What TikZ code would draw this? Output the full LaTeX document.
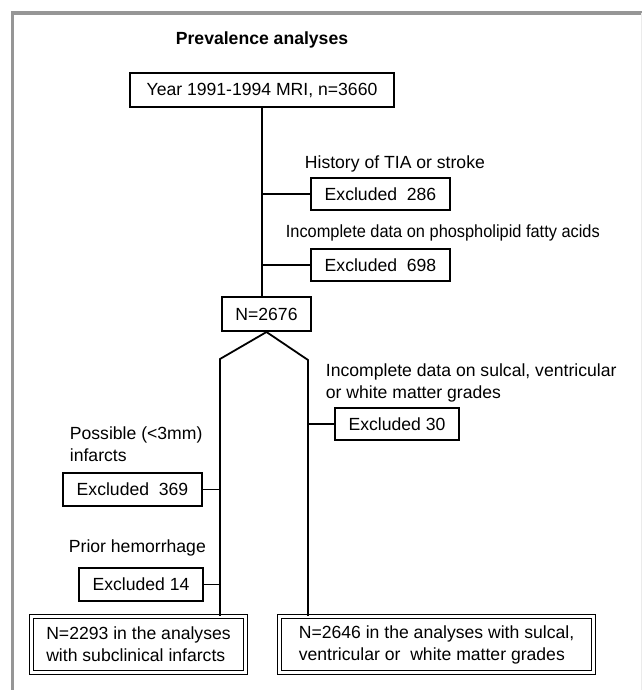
\documentclass[tikz,border=0pt]{standalone}
\usepackage{fontspec}
\setmainfont{Liberation Sans}
\definecolor{framegray}{RGB}{150,150,150}

\begin{document}
\begin{tikzpicture}[x=1pt, y=-1pt, line width=1.8pt,
    font=\fontsize{17.6}{22}\selectfont,
    box/.style={draw, inner sep=0pt, align=center},
    final/.style={draw, double, double distance=2.5pt, line width=1.3pt, inner sep=0pt, align=left},
    txt/.style={anchor=west, inner sep=0pt, align=left}]
            \useasboundingbox (0,0) rectangle (642,690);
            \draw[framegray, line width=3.5pt] (12.5,690) -- (12.5,13) -- (642,13);
            \draw[black!8, line width=1pt] (641.5,13) -- (641.5,690);

            \node (t0) at (262,40) {\bfseries Prevalence analyses};
            \node[box, minimum width=264.2pt, minimum height=34.2pt] (n0) at (262,90) {Year 1991-1994 MRI, n=3660};
            \node[txt] (l1) at (304,164) {History of TIA or stroke};
            \node[box, minimum width=139.2pt, minimum height=32.2pt] (n1) at (380.5,194) {Excluded~~286};
            \node[txt] (l2) at (285,233) {\scalebox{0.93}[1]{Incomplete data on phospholipid fatty acids}};
            \node[box, minimum width=139.2pt, minimum height=32.2pt] (n2) at (380.5,265) {Excluded~~698};
            \node[box, minimum width=89.2pt, minimum height=34.2pt] (n3) at (266.5,314) {N=2676};
            \coordinate (k1) at (220,359);
            \coordinate (k2) at (308,360);
            \node[txt] (l3) at (325,382.5) {Incomplete data on sulcal, ventricular\\or white matter grades};
            \node[box, minimum width=124.2pt, minimum height=32.2pt] (n4) at (397,424) {Excluded 30};
            \node[txt] (l4) at (69,444) {Possible (<3mm)\\infarcts};
            \node[box, minimum width=139.2pt, minimum height=33.2pt] (n5) at (132.5,489.5) {Excluded~~369};
            \node[txt] (l5) at (68,548) {Prior hemorrhage};
            \node[box, minimum width=124.2pt, minimum height=33.2pt] (n6) at (141,584.5) {Excluded 14};
            \node[final, minimum width=213.9pt, minimum height=55.9pt] (n7) at (138.5,644.5) {N=2293 in the analyses\\with subclinical infarcts};
            \node[final, minimum width=313.9pt, minimum height=55.9pt] (n8) at (436.5,644.5) {N=2646 in the analyses with sulcal,\\ventricular or\ \ white matter grades};

            \draw (n0.south) -- (n0.south |- n3.north);
            \draw (n1.west) -- (n1.west -| n0.south);
            \draw (n2.west) -- (n2.west -| n0.south);
            \draw (n3.south) -- (k1) -- (k1 |- n7.north);
            \draw (n3.south) -- (k2) -- (k2 |- n8.north);
            \draw (n4.west) -- (n4.west -| k2);
            \draw (n5.east) -- (n5.east -| k1);
            \draw (n6.east) -- (n6.east -| k1);
\end{tikzpicture}
\end{document}
